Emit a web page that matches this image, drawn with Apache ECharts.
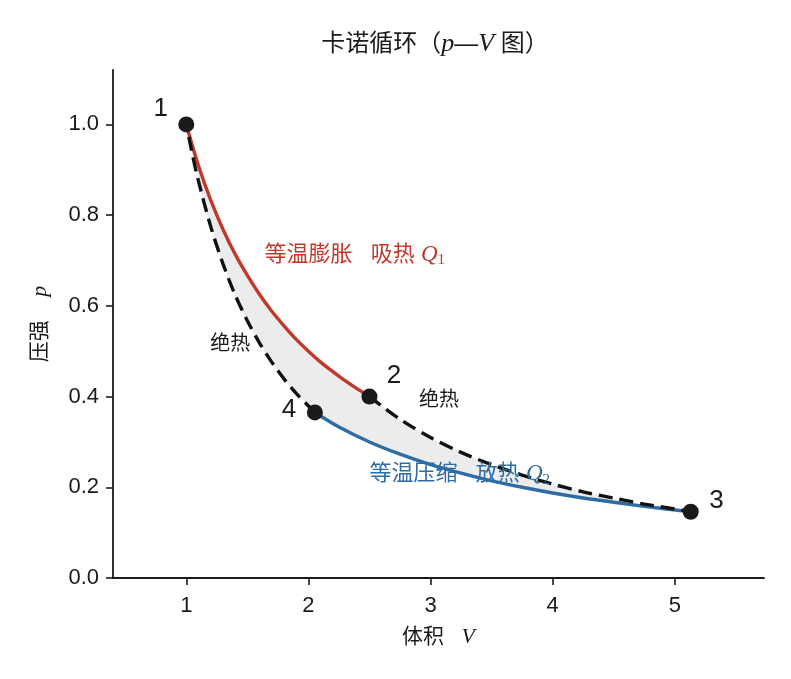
<!DOCTYPE html>
<html>
<head>
<meta charset="utf-8">
<script src="https://cdn.jsdelivr.net/npm/echarts@6/dist/echarts.min.js"></script>
</head>
<body style="margin:0;padding:0;">
<div id="myChart" style="width:791px;height:679px;"></div>
<script>
// 1 -> 2 isothermal expansion
var iso12V = [1.0, 1.1, 1.2, 1.3, 1.4, 1.5, 1.6, 1.7, 1.8, 1.9, 2.0, 2.1, 2.2, 2.3, 2.4, 2.5];
var iso12P = [1.0, 0.909, 0.833, 0.769, 0.714, 0.667, 0.625, 0.588, 0.556, 0.526, 0.5, 0.476, 0.455, 0.435, 0.417, 0.4];
// 2 -> 3 adiabatic
var adi23V = [2.5, 2.75, 3.0, 3.25, 3.5, 3.75, 4.0, 4.25, 4.5, 4.75, 5.0, 5.13];
var adi23P = [0.4, 0.350, 0.310, 0.277, 0.250, 0.227, 0.207, 0.190, 0.176, 0.163, 0.152, 0.146];
// 3 -> 4 isothermal compression
var iso34V = [5.13, 4.75, 4.5, 4.25, 4.0, 3.75, 3.5, 3.25, 3.0, 2.75, 2.5, 2.25, 2.053];
var iso34P = [0.146, 0.158, 0.167, 0.1765, 0.1875, 0.2, 0.214, 0.231, 0.25, 0.273, 0.3, 0.333, 0.365];
// 4 -> 1 adiabatic
var adi41V = [2.053, 1.9, 1.8, 1.7, 1.6, 1.5, 1.4, 1.3, 1.2, 1.1, 1.05, 1.0];
var adi41P = [0.365, 0.407, 0.439, 0.476, 0.518, 0.567, 0.624, 0.693, 0.775, 0.875, 0.934, 1.0];
// state points
var stateNames = ['1', '2', '3', '4'];
var stateV = [1.0, 2.5, 5.13, 2.053];
var stateP = [1.0, 0.4, 0.146, 0.365];
// tick labels
var xTicks = [1, 2, 3, 4, 5];
var yTicks = [0, 0.2, 0.4, 0.6, 0.8, 1.0];

var fontFam = '"Liberation Sans", "Noto Sans CJK SC", sans-serif';
var mathFam = '"Liberation Serif", "DejaVu Serif", serif';
var red = '#c0392b', blue = '#2e6da4', ink = '#1a1a1a';

function pairs(vs, ps) {
	var out = [];
	for (var i = 0; i < vs.length; i++) out.push([vs[i], ps[i]]);
	return out;
}

var cycle = pairs(iso12V, iso12P).concat(pairs(adi23V, adi23P), pairs(iso34V, iso34P), pairs(adi41V, adi41P));

function lineSeries(data, color, dashed, z) {
	return {
		type: 'line', data: data, showSymbol: false, symbol: 'none', smooth: 0.3, z: z,
		lineStyle: { color: color, width: 3.4, type: dashed ? [14, 7] : 'solid' },
		silent: true
	};
}

// annotation anchors (data coords)
function anno(v, p, text, color, align, size, rich) {
	return {
		value: [v, p],
		label: { show: true, formatter: text, color: color, align: align, verticalAlign: 'middle',
			fontFamily: fontFam, fontSize: size, rich: rich }
	};
}
var richQ = function (color) {
	return {
		t: { fontFamily: fontFam, fontSize: 22, color: color },
		q: { fontFamily: mathFam, fontStyle: 'italic', fontSize: 23, color: color },
		s: { fontFamily: mathFam, fontSize: 15, color: color, padding: [11, 0, 0, 0] }
	};
};

var annos = [
	anno(0.79, 1.035, '1', ink, 'center', 26),
	anno(2.70, 0.445, '2', ink, 'center', 26),
	anno(5.34, 0.17, '3', ink, 'center', 26),
	anno(1.84, 0.37, '4', ink, 'center', 26),
	anno(1.64, 0.713, '{t|等温膨胀   吸热 }{q|Q}{s|1}', red, 'left', 22, richQ(red)),
	anno(2.5, 0.229, '{t|等温压缩   放热 }{q|Q}{s|2}', blue, 'left', 22, richQ(blue)),
	anno(1.36, 0.515, '绝热', ink, 'center', 20),
	anno(3.07, 0.391, '绝热', ink, 'center', 20)
];

var option = {
	animation: false,
	title: {
		text: '卡诺循环（{i|p}—{i|V} 图）',
		left: 430, top: 26, textAlign: 'center',
		textStyle: {
			fontFamily: fontFam, fontSize: 24, fontWeight: 'normal', color: ink,
			rich: { i: { fontFamily: mathFam, fontStyle: 'italic', fontSize: 26, color: ink } }
		}
	},
	grid: { left: 113, right: 27, top: 70, bottom: 101 },
	xAxis: {
		type: 'value', min: 0.4, max: 5.73,
		name: '体积   {i|V}', nameLocation: 'middle', nameGap: 48,
		nameTextStyle: { fontFamily: fontFam, fontSize: 21, color: ink,
			rich: { i: { fontFamily: mathFam, fontStyle: 'italic', fontSize: 22, color: ink } } },
		splitLine: { show: false },
		axisLine: { lineStyle: { color: ink, width: 1.8 } },
		axisTick: { customValues: xTicks, length: 7, lineStyle: { color: ink, width: 1.6 } },
		axisLabel: { customValues: xTicks, fontFamily: fontFam, fontSize: 22, color: ink, margin: 17 }
	},
	yAxis: {
		type: 'value', min: 0, max: 1.12,
		name: '压强    {i|p}', nameLocation: 'middle', nameGap: 62, nameRotate: 90,
		nameTextStyle: { fontFamily: fontFam, fontSize: 21, color: ink,
			rich: { i: { fontFamily: mathFam, fontStyle: 'italic', fontSize: 22, color: ink } } },
		splitLine: { show: false },
		axisLine: { show: true, lineStyle: { color: ink, width: 1.8 } },
		axisTick: { show: true, customValues: yTicks, length: 7, lineStyle: { color: ink, width: 1.6 } },
		axisLabel: { customValues: yTicks, fontFamily: fontFam, fontSize: 22, color: ink, margin: 14,
			formatter: function (v) { return v.toFixed(1); } }
	},
	series: [
		{
			type: 'custom', z: 1, silent: true,
			data: [0],
			renderItem: function (params, api) {
				var pts = cycle.map(function (d) { return api.coord(d); });
				return { type: 'polygon', shape: { points: pts, smooth: 0.3 }, style: { fill: '#ececec', stroke: null } };
			}
		},
		lineSeries(pairs(iso12V, iso12P), red, false, 3),
		lineSeries(pairs(iso34V, iso34P), blue, false, 3),
		lineSeries(pairs(adi23V, adi23P), '#111', true, 4),
		lineSeries(pairs(adi41V, adi41P), '#111', true, 4),
		{
			type: 'scatter', z: 6, symbolSize: 16, silent: true,
			itemStyle: { color: ink, opacity: 1 },
			data: pairs(stateV, stateP)
		},
		{
			type: 'scatter', z: 7, symbolSize: 0, silent: true,
			itemStyle: { opacity: 1 },
			data: annos
		}
	]
};
echarts.init(document.getElementById('myChart')).setOption(option);
</script>
</body>
</html>
